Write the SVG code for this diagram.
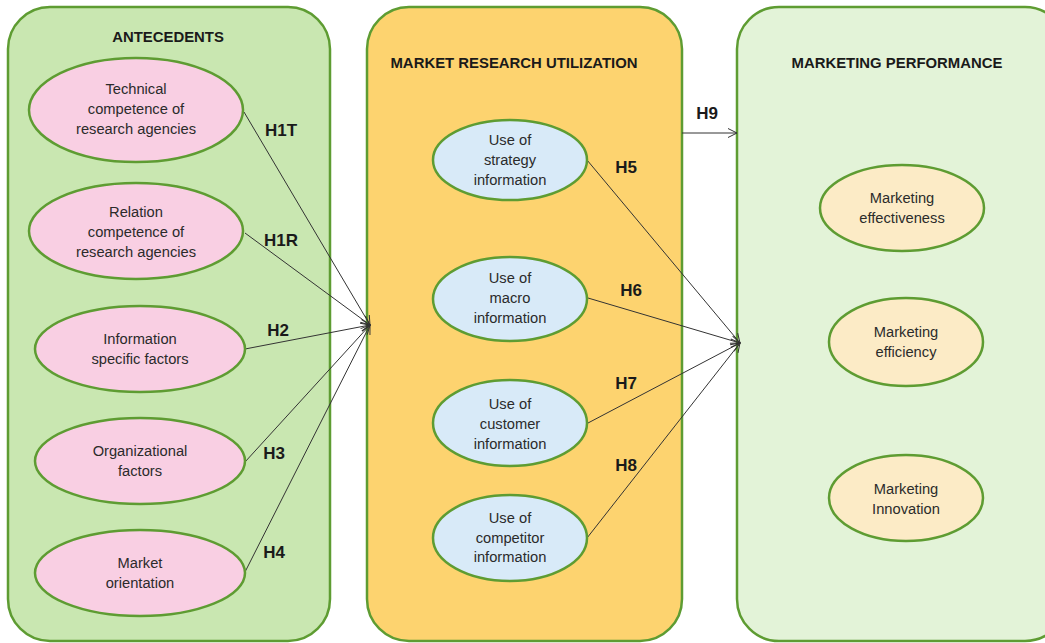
<svg xmlns="http://www.w3.org/2000/svg" width="1045" height="643" viewBox="0 0 1045 643">
<defs>
<style>
.box{stroke:#5e9c32;stroke-width:2.5}
.el{stroke:#5e9c32;stroke-width:2.5}
.pink{fill:#f9cfe3}
.blue{fill:#d8eaf8}
.cream{fill:#fcebc6}
.t{font-family:"Liberation Sans",Arial,sans-serif;font-size:14.7px;fill:#2b2b2b;text-anchor:middle}
.h{font-family:"Liberation Sans",Arial,sans-serif;font-size:14.9px;font-weight:bold;fill:#1a1a1a;text-anchor:middle}
.lbl{font-family:"Liberation Sans",Arial,sans-serif;font-size:17px;font-weight:bold;fill:#1a1a1a;text-anchor:middle}
.c{stroke:#333;stroke-width:1;fill:none;marker-end:url(#arr)}
</style>
<marker id="arr" markerUnits="userSpaceOnUse" markerWidth="12" markerHeight="12" refX="10" refY="5" orient="auto" viewBox="0 0 12 10">
<path d="M1,0.5 L10,5 L1,9.5" fill="none" stroke="#333" stroke-width="1"/>
</marker>
</defs>
<rect width="1045" height="643" fill="#ffffff"/>

<g id="antecedents">
<rect class="box" x="8" y="7" width="322" height="634" rx="42" fill="#c9e7b1"/>
<text class="h" x="168" y="42">ANTECEDENTS</text>
</g>
<g id="mru">
<rect class="box" x="367" y="7" width="315" height="634" rx="42" fill="#fdd36f"/>
<text class="h" x="514" y="68">MARKET RESEARCH UTILIZATION</text>
</g>
<g id="mp">
<rect class="box" x="737" y="7" width="330" height="634" rx="42" fill="#e3f3d8"/>
<text class="h" x="897" y="68">MARKETING PERFORMANCE</text>
</g>

<g id="connectors">
<line class="c" x1="244" y1="112" x2="370" y2="325"/>
<line class="c" x1="245" y1="233" x2="370" y2="325"/>
<line class="c" x1="245" y1="349" x2="370" y2="325"/>
<line class="c" x1="245" y1="462" x2="370" y2="325"/>
<line class="c" x1="245" y1="572" x2="370" y2="325"/>
<line class="c" x1="587" y1="160" x2="740" y2="343"/>
<line class="c" x1="588" y1="298" x2="740" y2="343"/>
<line class="c" x1="588" y1="423" x2="740" y2="343"/>
<line class="c" x1="587" y1="538" x2="740" y2="343"/>
<line class="c" x1="682" y1="133" x2="737" y2="133"/>
<text class="lbl" x="281" y="136">H1T</text>
<text class="lbl" x="281" y="246">H1R</text>
<text class="lbl" x="278" y="336">H2</text>
<text class="lbl" x="274" y="459">H3</text>
<text class="lbl" x="274" y="558">H4</text>
<text class="lbl" x="626" y="173">H5</text>
<text class="lbl" x="631" y="296">H6</text>
<text class="lbl" x="626" y="389">H7</text>
<text class="lbl" x="626" y="471">H8</text>
<text class="lbl" x="707" y="119">H9</text>
</g>

<g id="n-technical">
<ellipse class="el pink" cx="136" cy="110" rx="107" ry="52"/>
<text class="t" x="136" y="94">Technical</text>
<text class="t" x="136" y="114">competence of</text>
<text class="t" x="136" y="134">research agencies</text>
</g>
<g id="n-relation">
<ellipse class="el pink" cx="136" cy="231" rx="107" ry="48"/>
<text class="t" x="136" y="217">Relation</text>
<text class="t" x="136" y="237">competence of</text>
<text class="t" x="136" y="257">research agencies</text>
</g>
<g id="n-information">
<ellipse class="el pink" cx="140" cy="349" rx="105" ry="43"/>
<text class="t" x="140" y="344">Information</text>
<text class="t" x="140" y="364">specific factors</text>
</g>
<g id="n-organizational">
<ellipse class="el pink" cx="140" cy="461" rx="105" ry="43"/>
<text class="t" x="140" y="456">Organizational</text>
<text class="t" x="140" y="476">factors</text>
</g>
<g id="n-market-orientation">
<ellipse class="el pink" cx="140" cy="573" rx="105" ry="43"/>
<text class="t" x="140" y="568">Market</text>
<text class="t" x="140" y="588">orientation</text>
</g>

<g id="n-strategy">
<ellipse class="el blue" cx="510" cy="160" rx="77" ry="40"/>
<text class="t" x="510" y="145">Use of</text>
<text class="t" x="510" y="165">strategy</text>
<text class="t" x="510" y="185">information</text>
</g>
<g id="n-macro">
<ellipse class="el blue" cx="510" cy="299" rx="77" ry="42"/>
<text class="t" x="510" y="283">Use of</text>
<text class="t" x="510" y="303">macro</text>
<text class="t" x="510" y="323">information</text>
</g>
<g id="n-customer">
<ellipse class="el blue" cx="510" cy="423" rx="77" ry="43"/>
<text class="t" x="510" y="409">Use of</text>
<text class="t" x="510" y="429">customer</text>
<text class="t" x="510" y="449">information</text>
</g>
<g id="n-competitor">
<ellipse class="el blue" cx="510" cy="538" rx="77" ry="43"/>
<text class="t" x="510" y="523">Use of</text>
<text class="t" x="510" y="543">competitor</text>
<text class="t" x="510" y="562">information</text>
</g>

<g id="n-effectiveness">
<ellipse class="el cream" cx="902" cy="208" rx="82" ry="43"/>
<text class="t" x="902" y="203">Marketing</text>
<text class="t" x="902" y="223">effectiveness</text>
</g>
<g id="n-efficiency">
<ellipse class="el cream" cx="906" cy="342" rx="77" ry="44"/>
<text class="t" x="906" y="337">Marketing</text>
<text class="t" x="906" y="357">efficiency</text>
</g>
<g id="n-innovation">
<ellipse class="el cream" cx="906" cy="498" rx="77" ry="43"/>
<text class="t" x="906" y="494">Marketing</text>
<text class="t" x="906" y="514">Innovation</text>
</g>
</svg>
